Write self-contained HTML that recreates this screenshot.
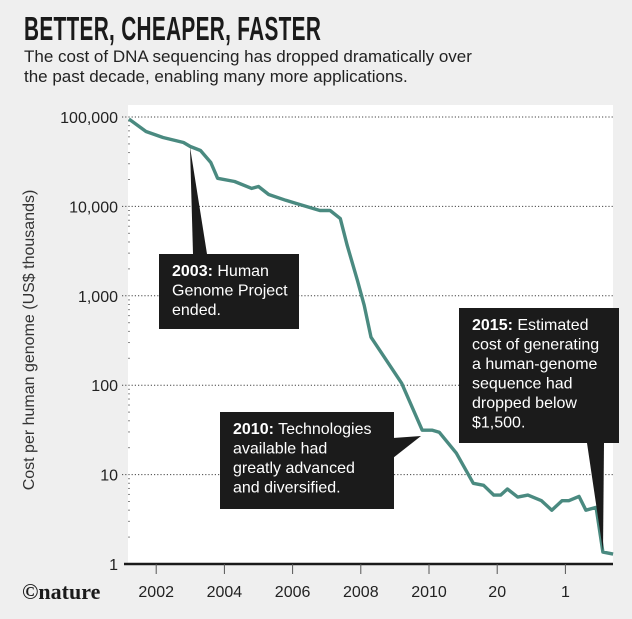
<!DOCTYPE html>
<html><head><meta charset="utf-8">
<style>
body{margin:0;background:#efefef;}
#wrap{position:relative;width:632px;height:619px;overflow:hidden;background:#efefef;font-family:"Liberation Sans",sans-serif;}
.title{position:absolute;left:24px;top:10px;font-size:33px;font-weight:bold;color:#1a1a1a;transform:scaleX(0.63);transform-origin:left top;white-space:nowrap;letter-spacing:0.5px;}
.sub{position:absolute;left:24px;top:47px;font-size:17px;line-height:20px;color:#222;}
</style></head><body>
<div id="wrap">
<div class="title">BETTER, CHEAPER, FASTER</div>
<div class="sub">The cost of DNA sequencing has dropped dramatically over<br>the past decade, enabling many more applications.</div>
<svg id="chart" width="632" height="619" style="position:absolute;left:0;top:0"></svg>
</div>
<script>
const years=[2001.2,2001.7,2002.2,2002.8,2003.0,2003.3,2003.6,2003.8,2004.3,2004.8,2005.0,2005.3,2005.8,2006.1,2006.8,2007.1,2007.4,2007.6,2007.9,2008.1,2008.3,2009.2,2009.8,2010.1,2010.3,2010.8,2011.3,2011.6,2011.9,2012.1,2012.3,2012.6,2012.9,2013.3,2013.6,2013.9,2014.1,2014.4,2014.6,2014.9,2015.1,2015.4];
const costs=[95000,68900,59000,51900,46800,42200,31000,20600,19000,15900,16700,13600,11700,10800,9000,9000,7300,3660,1490,783,344,105,31.4,31.4,29.8,17.4,8.0,7.6,5.9,5.9,6.9,5.6,5.9,5.1,4.0,5.1,5.1,5.7,4.0,4.3,1.36,1.29];
const yTicks=[100000,10000,1000,100,10,1];
const yTickLabels=["100,000","10,000","1,000","100","10","1"];
const xTicks=[2002,2004,2006,2008,2010,2012,2014];
const xTickLabels=["2002","2004","2006","2008","2010","20","1"];

const NS="http://www.w3.org/2000/svg";
const svg=document.getElementById('chart');
const X0=128,X1=613,Y1=564;
function xs(yr){return 429+(yr-2010)*34.1;}
function ys(v){return Y1-Math.log10(v)*89.4;}
function mk(tag,attrs,parent){const e=document.createElementNS(NS,tag);for(const k in attrs)e.setAttribute(k,attrs[k]);(parent||svg).appendChild(e);return e;}

let e=mk('rect',{x:X0,y:105,width:X1-X0,height:Y1-105,fill:'#fff'});



yTicks.forEach((v,i)=>{
  const y=ys(v);
  if(v>1){
    const g=mk('line',{x1:X0-6,x2:X1,y1:y,y2:y,stroke:'#444','stroke-width':1,'stroke-dasharray':'1.2,2'});
    
    
  }
  const t=mk('text',{x:118,y:y+6,'text-anchor':'end','font-size':16,fill:'#222','font-family':'Liberation Sans, sans-serif'});
  t.textContent=yTickLabels[i];
  
  
  if(v>1){for(let m=2;m<=9;m++){const yy=ys(v/10*m);mk('line',{x1:X0,x2:X0+2,y1:yy,y2:yy,stroke:'#888','stroke-width':1});}}
});

let ax=mk('line',{x1:124,x2:X1,y1:Y1,y2:Y1,stroke:'#1a1a1a','stroke-width':2.5});


xTicks.forEach((yr,i)=>{
  const x=xs(yr);
  mk('line',{x1:x,x2:x,y1:Y1,y2:Y1+10,stroke:'#555','stroke-width':1});
  const t=mk('text',{x:x,y:597,'text-anchor':'middle','font-size':16,fill:'#222','font-family':'Liberation Sans, sans-serif'});
  t.textContent=xTickLabels[i];
  
  
});

const yt=mk('text',{x:0,y:0,'text-anchor':'middle','font-size':16,fill:'#333',transform:'translate(34,340) rotate(-90)','font-family':'Liberation Sans, sans-serif'});
yt.textContent='Cost per human genome (US$ thousands)';



const pts=years.map((yr,i)=>xs(yr).toFixed(1)+','+ys(costs[i]).toFixed(1)).join(' ');
const line=mk('polyline',{points:pts,fill:'none',stroke:'#4a8a80','stroke-width':3.4,'stroke-linejoin':'round'});



function callout(name,poly,box,lines){
  const g=mk('g',{});
  
  
  mk('polygon',{points:poly,fill:'#1b1b1b'},g);
  mk('rect',{x:box[0],y:box[1],width:box[2],height:box[3],fill:'#1b1b1b'},g);
  lines.forEach((ln,i)=>{
    const t=mk('text',{x:box[0]+13,y:box[1]+22+i*19.5,'font-size':16,fill:'#fff','font-family':'Liberation Sans, sans-serif'},g);
    if(i===0){const b=mk('tspan',{'font-weight':'bold'},t);b.textContent=ln[0];const r=mk('tspan',{},t);r.textContent=ln[1];}
    else t.textContent=ln;
  });
}
callout('callout-2003','190,147 193,254 207,254',[159,254,140,75],[['2003:',' Human'],'Genome Project','ended.']);
callout('callout-2010','421,436 393,438 393,458',[220,412,174,97],[['2010:',' Technologies'],'available had','greatly advanced','and diversified.']);
callout('callout-2015','603,551 587,443 604,443',[459,308,160,135],[['2015:',' Estimated'],'cost of generating','a human-genome','sequence had','dropped below','$1,500.']);

const nat=mk('text',{x:22,y:599,'font-size':22,fill:'#1a1a1a','font-family':'Liberation Serif, serif','font-weight':'bold'});
nat.textContent='©nature';


</script>
</body></html>
